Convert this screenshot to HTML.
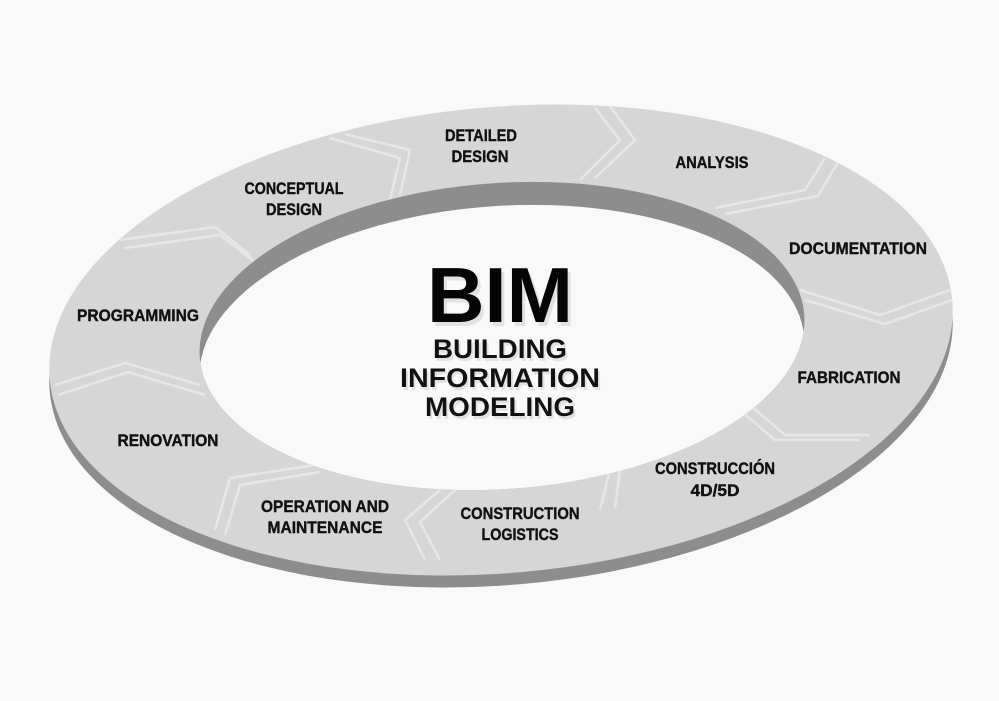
<!DOCTYPE html>
<html><head><meta charset="utf-8"><style>
html,body{margin:0;padding:0;background:#f9f9f9;}
svg{display:block;}
.l{font-family:"Liberation Sans",sans-serif;font-weight:bold;font-size:17px;fill:#111;stroke:#111;stroke-width:0.4;}
</style></head><body>
<svg width="999" height="701" viewBox="0 0 999 701" xmlns="http://www.w3.org/2000/svg">
<defs>
<clipPath id="hole"><ellipse cx="502" cy="336" rx="303" ry="153" transform="rotate(-4 502 336)"/></clipPath>
</defs>
<rect width="999" height="701" fill="#f9f9f9"/>
<ellipse cx="501" cy="352" rx="453" ry="233" transform="rotate(-5 501 352)" fill="#8d8d8d"/>
<ellipse cx="501" cy="340" rx="453" ry="233" transform="rotate(-5 501 340)" fill="#d6d6d6"/>
<g fill="none" stroke="#e8e8e8" stroke-width="2.5" opacity="0.9">
<polyline points="330,138 400,158 390,200"/><polyline points="345,134 410,150 400,195"/>
<polyline points="595,108 620,140 580,180"/><polyline points="610,106 635,140 595,178"/>
<polyline points="825,158 805,190 715,208"/><polyline points="838,162 818,196 725,214"/>
<polyline points="120,240 215,227 250,255"/><polyline points="125,248 220,235 255,262"/>
<polyline points="800,290 880,315 950,290"/><polyline points="805,300 885,324 952,300"/>
<polyline points="55,385 125,363 200,385"/><polyline points="58,395 128,372 205,395"/>
<polyline points="740,410 775,440 860,440"/><polyline points="750,405 785,435 870,435"/>
<polyline points="215,530 230,478 315,465"/><polyline points="225,535 240,485 320,472"/>
<polyline points="600,510 610,470 640,455"/><polyline points="615,508 620,470 650,450"/>
<polyline points="440,490 405,520 425,560"/><polyline points="455,490 420,522 440,560"/>
</g>
<ellipse cx="502" cy="336" rx="303" ry="153" transform="rotate(-4 502 336)" fill="#8d8d8d"/>
<g clip-path="url(#hole)">
<ellipse cx="502" cy="359" rx="303" ry="153" transform="rotate(-4 502 359)" fill="#f9f9f9"/>
</g>
<g font-family="Liberation Sans,sans-serif" font-weight="bold" text-anchor="middle">
<text x="503" y="326" font-size="78" fill="#e2e2e2" textLength="146" lengthAdjust="spacingAndGlyphs">BIM</text>
<text x="500" y="322" font-size="78" fill="#050505" textLength="146" lengthAdjust="spacingAndGlyphs">BIM</text>
<text x="502" y="361" font-size="27" fill="#e2e2e2" textLength="134" lengthAdjust="spacingAndGlyphs">BUILDING</text>
<text x="500" y="358" font-size="27" fill="#111" textLength="134" lengthAdjust="spacingAndGlyphs">BUILDING</text>
<text x="502" y="390" font-size="27" fill="#e2e2e2" textLength="200" lengthAdjust="spacingAndGlyphs">INFORMATION</text>
<text x="500" y="387" font-size="27" fill="#111" textLength="200" lengthAdjust="spacingAndGlyphs">INFORMATION</text>
<text x="502" y="419" font-size="27" fill="#e2e2e2" textLength="150" lengthAdjust="spacingAndGlyphs">MODELING</text>
<text x="500" y="416" font-size="27" fill="#111" textLength="150" lengthAdjust="spacingAndGlyphs">MODELING</text>
</g>
<g class="l" text-anchor="middle">
<text x="481" y="141" textLength="72" lengthAdjust="spacingAndGlyphs">DETAILED</text>
<text x="480" y="162" textLength="57" lengthAdjust="spacingAndGlyphs">DESIGN</text>
<text x="712" y="168" textLength="73" lengthAdjust="spacingAndGlyphs">ANALYSIS</text>
<text x="294" y="194" textLength="99" lengthAdjust="spacingAndGlyphs">CONCEPTUAL</text>
<text x="294" y="215" textLength="56" lengthAdjust="spacingAndGlyphs">DESIGN</text>
<text x="858" y="254" textLength="138" lengthAdjust="spacingAndGlyphs">DOCUMENTATION</text>
<text x="138" y="321" textLength="122" lengthAdjust="spacingAndGlyphs">PROGRAMMING</text>
<text x="849" y="383" textLength="103" lengthAdjust="spacingAndGlyphs">FABRICATION</text>
<text x="168" y="446" textLength="101" lengthAdjust="spacingAndGlyphs">RENOVATION</text>
<text x="715" y="474" textLength="120" lengthAdjust="spacingAndGlyphs">CONSTRUCCIÓN</text>
<text x="715" y="496" textLength="49" lengthAdjust="spacingAndGlyphs">4D/5D</text>
<text x="325" y="512" textLength="128" lengthAdjust="spacingAndGlyphs">OPERATION AND</text>
<text x="325" y="533" textLength="115" lengthAdjust="spacingAndGlyphs">MAINTENANCE</text>
<text x="520" y="519" textLength="119" lengthAdjust="spacingAndGlyphs">CONSTRUCTION</text>
<text x="520" y="540" textLength="77" lengthAdjust="spacingAndGlyphs">LOGISTICS</text>
</g>
</svg>
</body></html>
